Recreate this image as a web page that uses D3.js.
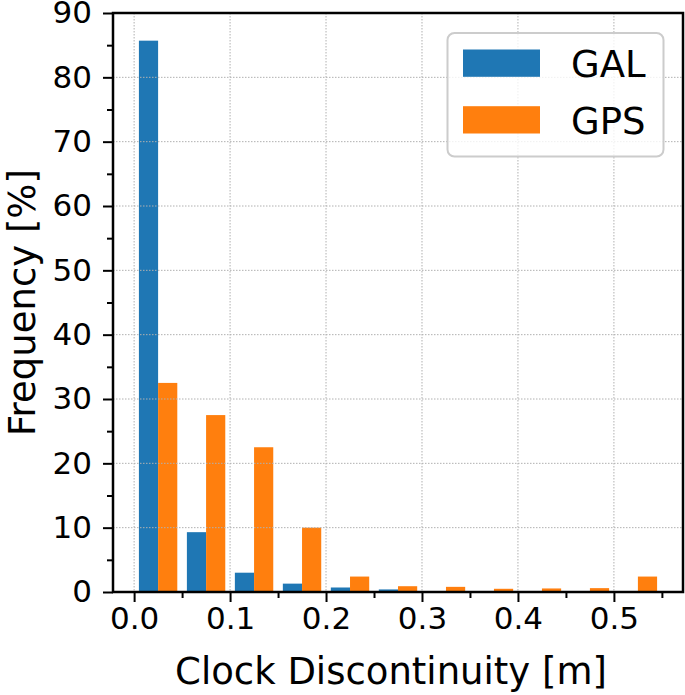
<!DOCTYPE html>
<html>
<head>
<meta charset="utf-8">
<script src="https://cdn.jsdelivr.net/npm/d3@7"></script>
<style>
  html, body { margin: 0; padding: 0; background: #fff; }
  svg { display: block; font-family: "DejaVu Sans", sans-serif; }
</style>
</head>
<body>
<svg id="chart" width="685" height="695"></svg>
<script>
// ---- data ----
const binStarts = [0.00, 0.05, 0.10, 0.15, 0.20, 0.25, 0.30, 0.35, 0.40, 0.45, 0.50];
const binWidth = 0.05;
const galValues = [85.7, 9.3, 3.0, 1.3, 0.7, 0.4, 0.0, 0.0, 0.0, 0.0, 0.0];
const gpsValues = [32.5, 27.5, 22.5, 10.0, 2.4, 0.9, 0.8, 0.5, 0.55, 0.6, 2.4];
const seriesNames = ["GAL", "GPS"];
const seriesColors = ["#1f77b4", "#ff7f0e"];
const xTicks = [0.0, 0.1, 0.2, 0.3, 0.4, 0.5];
const xMinorTicks = [0.05, 0.15, 0.25, 0.35, 0.45, 0.55];
const yTicks = [0, 10, 20, 30, 40, 50, 60, 70, 80, 90];
const yMinorTicks = [5, 15, 25, 35, 45, 55, 65, 75, 85];
const xLabel = "Clock Discontinuity [m]";
const yLabel = "Frequency [%]";

// ---- layout ----
const svg = d3.select("#chart");
const L = 113, R = 683, T = 13, B = 592;
const x = d3.scaleLinear().domain([-0.022, 0.572]).range([L, R]);
const y = d3.scaleLinear().domain([0, 90]).range([B, T]);

const series = [galValues, gpsValues];
const gBars = svg.append("g");
series.forEach((vals, si) => {
  gBars.selectAll(null).data(binStarts).enter().append("rect")
    .attr("x", (d) => x(d + binWidth * 0.1 + si * binWidth * 0.4))
    .attr("width", (d) => x(d + binWidth * 0.4) - x(d))
    .attr("y", (d, i) => y(vals[i]))
    .attr("height", (d, i) => y(0) - y(vals[i]))
    .attr("fill", seriesColors[si]);
});

// grid (on top of bars)
const grid = svg.append("g").attr("stroke", "#b0b0b0").attr("stroke-width", 1)
  .attr("stroke-dasharray", "1.5,1.5").attr("fill", "none");
xTicks.forEach(t => grid.append("line").attr("x1", x(t)).attr("x2", x(t)).attr("y1", T).attr("y2", B));
yTicks.filter(t => t > 0 && t < 90).forEach(t => grid.append("line").attr("x1", L).attr("x2", R).attr("y1", y(t)).attr("y2", y(t)));

// axes
const xAxis = d3.axisBottom(x).tickValues(xTicks).tickFormat(d3.format(".1f")).tickSize(10).tickPadding(5);
const xAxisMinor = d3.axisBottom(x).tickValues(xMinorTicks).tickFormat("").tickSize(6);
const yAxis = d3.axisLeft(y).tickValues(yTicks).tickFormat(d3.format("d")).tickSize(10).tickPadding(11);
const yAxisMinor = d3.axisLeft(y).tickValues(yMinorTicks).tickFormat("").tickSize(6);

function styleAxis(g) {
  g.select(".domain").remove();
  g.selectAll(".tick line").attr("stroke", "#000").attr("stroke-width", 2);
  g.selectAll(".tick text").attr("fill", "#000").style("font-size", "31px")
    .style("font-family", "'DejaVu Sans', sans-serif");
}
svg.append("g").attr("transform", `translate(0,${B})`).call(xAxis).call(styleAxis);
svg.append("g").attr("transform", `translate(0,${B})`).call(xAxisMinor).call(styleAxis);
svg.append("g").attr("transform", `translate(${L},0)`).call(yAxis).call(styleAxis);
svg.append("g").attr("transform", `translate(${L},0)`).call(yAxisMinor).call(styleAxis);

// frame
svg.append("rect").attr("x", L).attr("y", T).attr("width", R - L).attr("height", B - T)
  .attr("fill", "none").attr("stroke", "#000").attr("stroke-width", 2.5);

// labels
svg.append("text").attr("x", 391).attr("y", 684).attr("text-anchor", "middle")
  .style("font-size", "37px").text(xLabel);
svg.append("text").attr("transform", `translate(35,${(T + B) / 2}) rotate(-90)`).attr("text-anchor", "middle")
  .style("font-size", "37px").text(yLabel);

// legend
const lg = svg.append("g");
lg.append("rect").attr("x", 447.5).attr("y", 33).attr("width", 216).attr("height", 123.5)
  .attr("rx", 7).attr("fill", "#fff").attr("fill-opacity", 0.8)
  .attr("stroke", "#cccccc").attr("stroke-width", 2);
seriesNames.forEach((name, i) => {
  lg.append("rect").attr("x", 463).attr("y", 49.5 + i * 56.7).attr("width", 77).attr("height", 27.3)
    .attr("fill", seriesColors[i]);
  lg.append("text").attr("x", 571).attr("y", 77 + i * 56.7).style("font-size", "37px").text(name);
});
</script>
</body>
</html>
